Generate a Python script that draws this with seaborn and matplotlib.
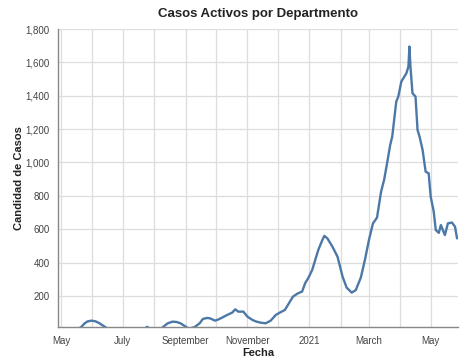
import pandas as pd
import matplotlib
matplotlib.use("Agg")
import matplotlib.pyplot as plt
import seaborn as sns

# values
fechas = [
    "2020-04-28", "2020-05-17", "2020-05-21", "2020-05-24", "2020-05-27", "2020-05-31",
    "2020-06-04", "2020-06-08", "2020-06-12", "2020-06-15", "2020-06-18",
    "2020-07-22", "2020-07-25", "2020-07-28",
    "2020-08-07", "2020-08-10", "2020-08-14", "2020-08-19", "2020-08-23", "2020-08-27",
    "2020-08-31", "2020-09-03", "2020-09-06", "2020-09-10", "2020-09-15", "2020-09-18",
    "2020-09-22", "2020-09-25", "2020-09-30", "2020-10-03", "2020-10-07", "2020-10-12",
    "2020-10-17", "2020-10-20", "2020-10-23", "2020-10-28", "2020-11-01", "2020-11-06",
    "2020-11-10", "2020-11-14", "2020-11-19", "2020-11-24", "2020-11-29", "2020-12-03",
    "2020-12-08", "2020-12-13", "2020-12-16", "2020-12-21", "2020-12-25", "2020-12-28",
    "2020-12-31", "2021-01-04", "2021-01-07", "2021-01-10", "2021-01-14", "2021-01-16",
    "2021-01-19", "2021-01-24", "2021-01-29", "2021-02-03", "2021-02-07", "2021-02-12",
    "2021-02-16", "2021-02-21", "2021-02-25", "2021-03-01", "2021-03-05", "2021-03-09",
    "2021-03-13", "2021-03-16", "2021-03-19", "2021-03-22", "2021-03-24", "2021-03-28",
    "2021-03-30", "2021-04-02", "2021-04-05", "2021-04-07", "2021-04-09", "2021-04-10",
    "2021-04-11", "2021-04-13", "2021-04-16", "2021-04-18", "2021-04-20", "2021-04-23",
    "2021-04-26", "2021-04-29", "2021-05-01", "2021-05-04", "2021-05-06", "2021-05-09",
    "2021-05-11", "2021-05-15", "2021-05-18", "2021-05-22", "2021-05-25", "2021-05-27",
]
casos = [
    0, 0, 14, 34, 47, 52,
    48, 36, 20, 8, 0,
    0, 15, 0,
    0, 15, 35, 46, 44, 36,
    20, 8, 6, 14, 37, 62,
    68, 66, 52, 58, 70, 86,
    100, 120, 106, 106, 76, 56,
    46, 40, 36, 52, 86, 100,
    116, 166, 196, 216, 226, 276,
    306, 356, 416, 476, 535, 560,
    545, 495, 435, 315, 250, 220,
    235, 310, 415, 535, 635, 670,
    825, 896, 998, 1105, 1155, 1365,
    1395, 1485, 1515, 1535, 1575, 1695,
    1575, 1415, 1395, 1195, 1155, 1075,
    945, 935, 795, 705, 595, 578,
    625, 565, 635, 640, 615, 545,
]

# tick labels on the x axis (one per month, label every second month)
etiquetas_x = ["May", "", "July", "", "September", "", "November", "", "2021", "", "March", "", "May"]

df = pd.DataFrame({"Fecha": pd.to_datetime(fechas), "Casos": casos})

sns.set_style("white")
plt.rcParams["font.family"] = ["Liberation Sans", "DejaVu Sans"]

fig = plt.figure(figsize=(4.63, 3.64), dpi=100)
ax = fig.add_axes([0.1253, 0.1008, 0.864, 0.8195])

sns.lineplot(data=df, x="Fecha", y="Casos", color="#4c78a8", linewidth=1.7, ax=ax)

ax.set_xlim(pd.Timestamp("2020-04-28"), pd.Timestamp("2021-05-28"))
ax.set_ylim(12, 1800)
ax.set_yticks(range(200, 1801, 200))
ax.set_yticklabels([f"{v:,}" for v in range(200, 1801, 200)])

meses = pd.date_range("2020-05-01", "2021-05-01", freq="MS")
ax.set_xticks(meses)
ax.set_xticklabels(etiquetas_x)

ax.grid(True, color="#dddddd", linewidth=0.9)
ax.set_axisbelow(True)
for s in ["top", "right"]:
    ax.spines[s].set_visible(False)
for s in ["left", "bottom"]:
    ax.spines[s].set_color("#888888")
    ax.spines[s].set_linewidth(1)
ax.tick_params(axis="both", length=4, color="#888888", labelsize=7, labelcolor="#444444", pad=2)

ax.set_title("Casos Activos por Departmento", fontsize=9.5, fontweight="bold", color="#222222", pad=9)
ax.set_xlabel("Fecha", fontsize=8, fontweight="bold", color="#222222", labelpad=2)
ax.set_ylabel("Candidad de Casos", fontsize=8, fontweight="bold", color="#222222", labelpad=1)

fig.savefig("out.png", dpi=100)
